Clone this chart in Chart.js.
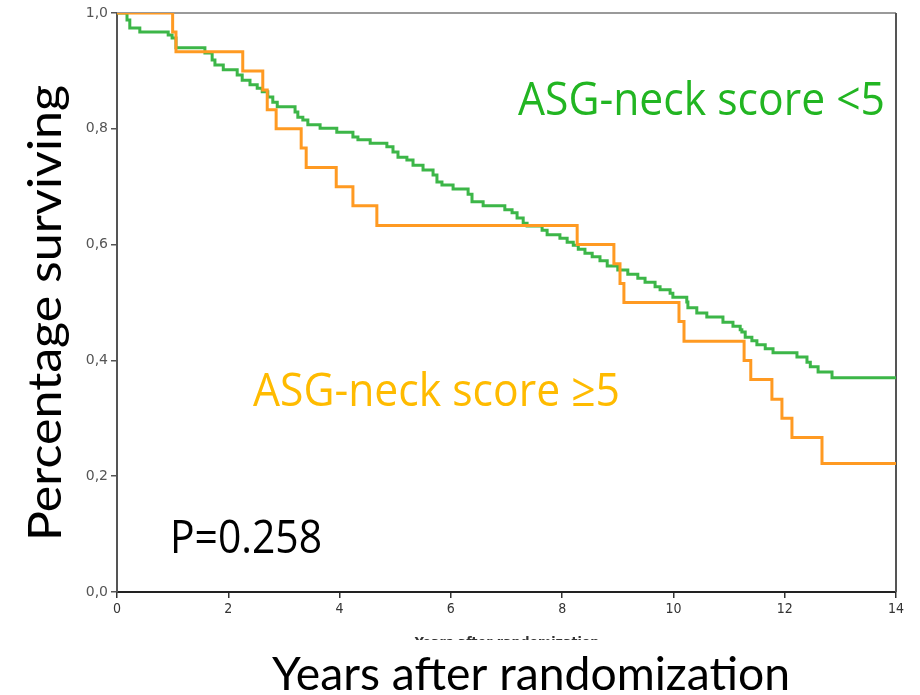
<!DOCTYPE html>
<html>
<head>
<meta charset="utf-8">
<script src="https://cdn.jsdelivr.net/npm/chart.js@4"></script>
<style>
  html, body { margin: 0; padding: 0; background: #fff; }
  canvas { display: block; }
</style>
</head>
<body>
<canvas id="km" width="920" height="695"></canvas>
<script>
// ASG-neck score <5 (green)
var greenYears = [0, 0.18, 0.23, 0.41, 0.92, 0.99, 1.06, 1.58, 1.71, 1.76, 1.91, 2.16, 2.25, 2.39, 2.52, 2.61, 2.71, 2.80, 2.88,
    3.20, 3.25, 3.34, 3.43, 3.65, 3.95, 4.24, 4.33, 4.55, 4.85, 4.96, 5.05, 5.21, 5.32, 5.50, 5.68, 5.75, 5.84, 6.04, 6.31, 6.38,
    6.58, 6.97, 7.10, 7.19, 7.30, 7.37, 7.64, 7.73, 7.96, 8.09, 8.20, 8.29, 8.41, 8.54, 8.68, 8.81, 9.00, 9.18, 9.36, 9.49, 9.67,
    9.76, 9.94, 9.99, 10.24, 10.26, 10.42, 10.60, 10.89, 11.07, 11.20, 11.23, 11.29, 11.41, 11.50, 11.65, 11.79, 12.22, 12.40,
    12.46, 12.60, 12.85, 14];
var greenSurv = [1, 0.988, 0.974, 0.967, 0.962, 0.957, 0.940, 0.931, 0.919, 0.910, 0.902, 0.893, 0.884, 0.876, 0.870, 0.864,
    0.855, 0.846, 0.838, 0.829, 0.820, 0.815, 0.807, 0.801, 0.794, 0.786, 0.781, 0.775, 0.769, 0.760, 0.751, 0.746, 0.737, 0.729,
    0.720, 0.708, 0.703, 0.696, 0.687, 0.674, 0.667, 0.660, 0.655, 0.646, 0.637, 0.632, 0.625, 0.617, 0.611, 0.604, 0.599, 0.592,
    0.585, 0.579, 0.572, 0.563, 0.556, 0.549, 0.542, 0.535, 0.527, 0.522, 0.516, 0.509, 0.501, 0.491, 0.482, 0.475, 0.466, 0.459,
    0.453, 0.449, 0.440, 0.434, 0.427, 0.420, 0.413, 0.406, 0.397, 0.389, 0.380, 0.370, 0.370];

// ASG-neck score >=5 (orange)
var orangeYears = [0, 1.00, 1.06, 2.26, 2.62, 2.70, 2.86, 3.31, 3.40, 3.94, 4.24, 4.67, 8.27, 8.93, 9.04, 9.11, 10.10, 10.19,
    11.27, 11.39, 11.77, 11.95, 12.13, 12.67, 14];
var orangeSurv = [1, 0.967, 0.933, 0.900, 0.867, 0.833, 0.800, 0.767, 0.733, 0.700, 0.667, 0.633, 0.600, 0.567, 0.533, 0.500,
    0.467, 0.433, 0.400, 0.367, 0.333, 0.300, 0.267, 0.222, 0.222];

var xTickLabels = ['0', '2', '4', '6', '8', '10', '12', '14'];
var yTickLabels = ['0,0', '0,2', '0,4', '0,6', '0,8', '1,0'];

function toPoints(xs, ys) {
    return xs.map(function (x, i) { return { x: x, y: ys[i] }; });
}

// draw text squeezed/stretched to a target width
function fitText(ctx, text, x, y, w, font, color, angle) {
    ctx.save();
    ctx.font = font;
    ctx.fillStyle = color;
    ctx.textBaseline = 'alphabetic';
    ctx.textAlign = 'left';
    var m = ctx.measureText(text).width;
    ctx.translate(x, y);
    if (angle) ctx.rotate(angle);
    ctx.scale(w / m, 1);
    ctx.fillText(text, 0, 0);
    ctx.restore();
}

var decorations = {
    id: 'decorations',
    beforeDatasetsDraw: function (chart) {
        var ctx = chart.ctx, a = chart.chartArea;
        ctx.save();
        ctx.lineWidth = 2;
        ctx.strokeStyle = '#9a9a9a';
        ctx.beginPath();
        ctx.moveTo(a.left, a.top);
        ctx.lineTo(a.right, a.top);
        ctx.stroke();
        ctx.strokeStyle = '#555';
        ctx.beginPath();
        ctx.moveTo(a.right, a.top);
        ctx.lineTo(a.right, a.bottom);
        ctx.stroke();
        ctx.restore();
    },
    afterDraw: function (chart) {
        var ctx = chart.ctx;
        fitText(ctx, 'ASG-neck score <5', 518, 115, 367, '46px "Open Sans"', '#22b522');
        fitText(ctx, 'ASG-neck score \u22655', 253, 406, 367, '46px "Open Sans"', '#ffbb00');
        fitText(ctx, 'P=0.258', 170, 553, 152, '46px "Open Sans"', '#000');
        fitText(ctx, 'Years after randomization', 272, 690, 518, '46px Lato', '#000');
        fitText(ctx, 'Percentage surviving', 61, 541, 456, '46px Lato', '#000', -Math.PI / 2);

        // small axis title, cut off by the frame below
        ctx.save();
        ctx.beginPath();
        ctx.rect(0, 600, 920, 40);
        ctx.clip();
        ctx.font = 'bold 14px "DejaVu Sans Condensed", "DejaVu Sans"';
        ctx.fillStyle = '#333';
        ctx.textAlign = 'center';
        ctx.textBaseline = 'alphabetic';
        ctx.fillText('Years after randomization', 507, 647);
        ctx.restore();
    }
};

new Chart(document.getElementById('km').getContext('2d'), {
    type: 'line',
    data: {
        datasets: [{
            label: 'ASG-neck score \u22655',
            data: toPoints(orangeYears, orangeSurv),
            borderColor: '#ff9a22',
            borderWidth: 3,
            stepped: true,
            pointRadius: 0,
            fill: false
        }, {
            label: 'ASG-neck score <5',
            data: toPoints(greenYears, greenSurv),
            borderColor: '#3cb648',
            borderWidth: 3,
            stepped: true,
            pointRadius: 0,
            fill: false
        }]
    },
    plugins: [decorations],
    options: {
        responsive: false,
        animation: false,
        devicePixelRatio: 1,
        layout: { padding: { left: 67, top: 13, right: 24, bottom: 63 } },
        plugins: { legend: { display: false }, tooltip: { enabled: false } },
        scales: {
            x: {
                type: 'linear',
                min: 0,
                max: 14,
                afterFit: function (s) { s.height = 40; },
                ticks: {
                    stepSize: 2,
                    maxRotation: 0,
                    padding: 3,
                    color: '#333',
                    font: { family: '"DejaVu Sans Condensed", "DejaVu Sans"', size: 14 },
                    callback: function (v, i) { return xTickLabels[i]; }
                },
                grid: { drawOnChartArea: false, drawTicks: true, tickLength: 6, color: '#333', lineWidth: 1.5 },
                border: { display: true, color: '#222', width: 2 }
            },
            y: {
                min: 0,
                max: 1,
                afterFit: function (s) { s.width = 50; },
                ticks: {
                    stepSize: 0.2,
                    padding: 3,
                    color: '#555',
                    font: { family: '"DejaVu Sans"', size: 14 },
                    callback: function (v, i) { return yTickLabels[i]; }
                },
                grid: { drawOnChartArea: false, drawTicks: true, tickLength: 6, color: '#555', lineWidth: 1.5 },
                border: { display: true, color: '#555', width: 2 }
            }
        }
    }
});
</script>
</body>
</html>
